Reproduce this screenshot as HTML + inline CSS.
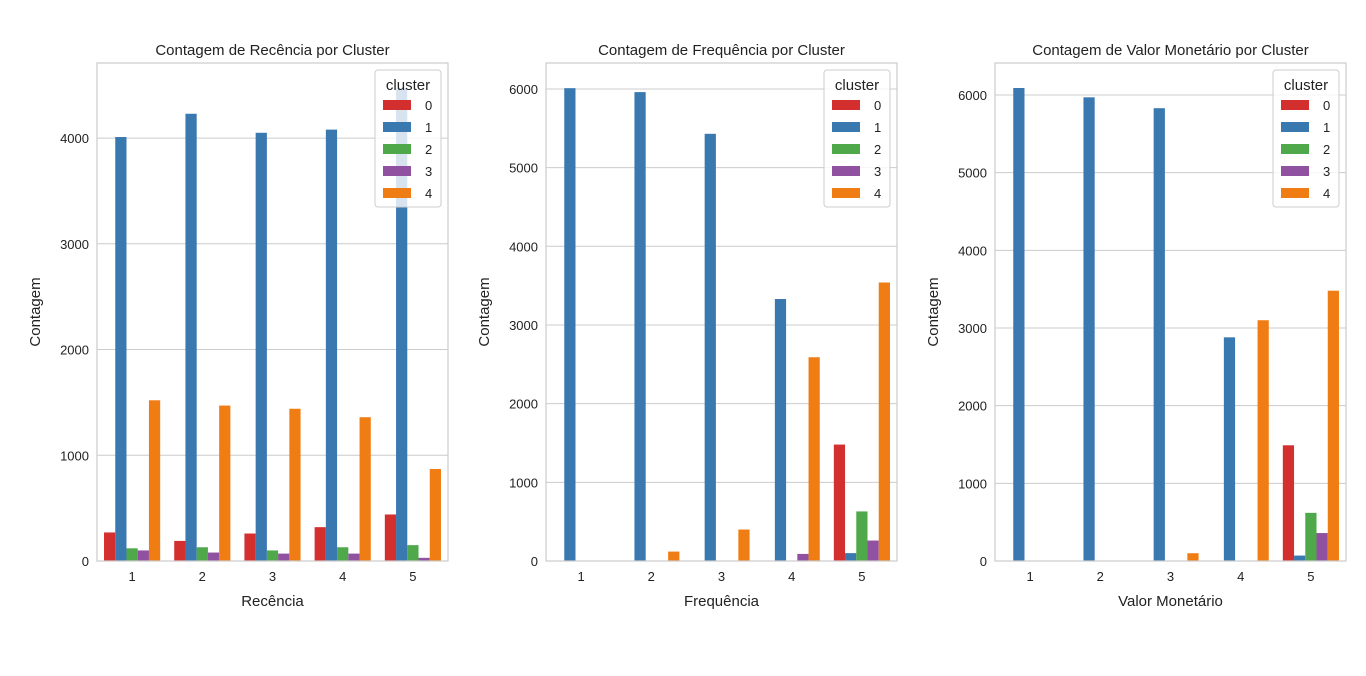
<!DOCTYPE html>
<html><head><meta charset="utf-8"><style>
body{margin:0;background:#fff;}
svg text{font-family:"Liberation Sans","DejaVu Sans",sans-serif;fill:#222;}
</style></head><body>
<svg id="chart" width="1366" height="671" xmlns="http://www.w3.org/2000/svg"></svg>
<script>
const categories = ["1","2","3","4","5"];
const clusters = ["0","1","2","3","4"];
const colors = ["#d42f2f","#3a78b0","#4fa84a","#9052a0","#f07d14"];
const titles = ["Contagem de Recência por Cluster","Contagem de Frequência por Cluster","Contagem de Valor Monetário por Cluster"];
const xLabels = ["Recência","Frequência","Valor Monetário"];
const yTicks1 = [0,1000,2000,3000,4000];
const yTicks2 = [0,1000,2000,3000,4000,5000,6000];
const yTicks3 = [0,1000,2000,3000,4000,5000,6000];
const yMax = [4710,6330,6412];
// values[cluster][category]
const recencia = [[270,190,260,320,440],[4010,4230,4050,4080,4470],[120,130,100,130,150],[100,80,70,70,30],[1520,1470,1440,1360,870]];
const frequencia = [[0,0,0,0,1480],[6010,5960,5430,3330,100],[0,0,0,0,630],[0,0,0,90,260],[0,120,400,2590,3540]];
const monetario = [[0,0,0,0,1490],[6090,5970,5830,2880,70],[0,0,0,0,620],[0,0,0,0,360],[0,0,100,3100,3480]];

const svg=document.getElementById('chart');
const NS="http://www.w3.org/2000/svg";
function mk(tag,attrs,parent,text){const e=document.createElementNS(NS,tag);for(const k in attrs)e.setAttribute(k,attrs[k]);if(text!==undefined)e.textContent=text;parent.appendChild(e);return e;}
const panels=[{x0:97,data:recencia,ticks:yTicks1},{x0:546,data:frequencia,ticks:yTicks2},{x0:995,data:monetario,ticks:yTicks3}];
const W=351,plotTop=63,bot=561;
panels.forEach((p,pi)=>{
  const g=mk('g',{},svg);
  
  
  const y=v=>bot-(v/yMax[pi])*(bot-plotTop);
  const band=W/categories.length;
  const x=(ci,k)=>p.x0+ci*band+band*0.1+k*band*0.8/clusters.length;
  p.ticks.forEach(t=>{
    const l=mk('line',{x1:p.x0,x2:p.x0+W,y1:y(t),y2:y(t),stroke:'#cccccc','stroke-width':1},g);
    
    
    const tx=mk('text',{x:p.x0-8,y:y(t)+5,'text-anchor':'end','font-size':13},g,String(t));
    
    
  });
  p.data.forEach((series,k)=>{
    series.forEach((v,ci)=>{
      const r=mk('rect',{x:x(ci,k),y:y(v),width:band*0.8/clusters.length,height:bot-y(v),fill:colors[k]},g);
      
      
    });
  });
  categories.forEach((c,ci)=>{
    const tx=mk('text',{x:p.x0+ci*band+band/2,y:bot+20,'text-anchor':'middle','font-size':13},g,c);
    
    
  });
  const fr=mk('rect',{x:p.x0,y:plotTop,width:W,height:bot-plotTop,fill:'none',stroke:'#cccccc','stroke-width':1.2},g);
  
  
  const t=mk('text',{x:p.x0+W/2,y:55,'text-anchor':'middle','font-size':15},g,titles[pi]);
  
  
  const xl=mk('text',{x:p.x0+W/2,y:606,'text-anchor':'middle','font-size':15},g,xLabels[pi]);
  
  
  const yl=mk('text',{x:0,y:0,'text-anchor':'middle','font-size':15,transform:'translate('+(p.x0-57)+','+((plotTop+bot)/2)+') rotate(-90)'},g,'Contagem');
  
  
  const lg=mk('g',{},g);
  
  
  const lx=p.x0+W-73;
  mk('rect',{x:lx,y:70,width:66,height:137,rx:3,fill:'#ffffff','fill-opacity':0.8,stroke:'#cccccc'},lg);
  mk('text',{x:lx+33,y:90,'text-anchor':'middle','font-size':15},lg,'cluster');
  clusters.forEach((c,k)=>{
    const e=mk('g',{},lg);
    
    
    mk('rect',{x:lx+8,y:100+k*22,width:28,height:10,fill:colors[k]},e);
    mk('text',{x:lx+50,y:110+k*22,'font-size':13},e,c);
  });
});
</script>
</body></html>
